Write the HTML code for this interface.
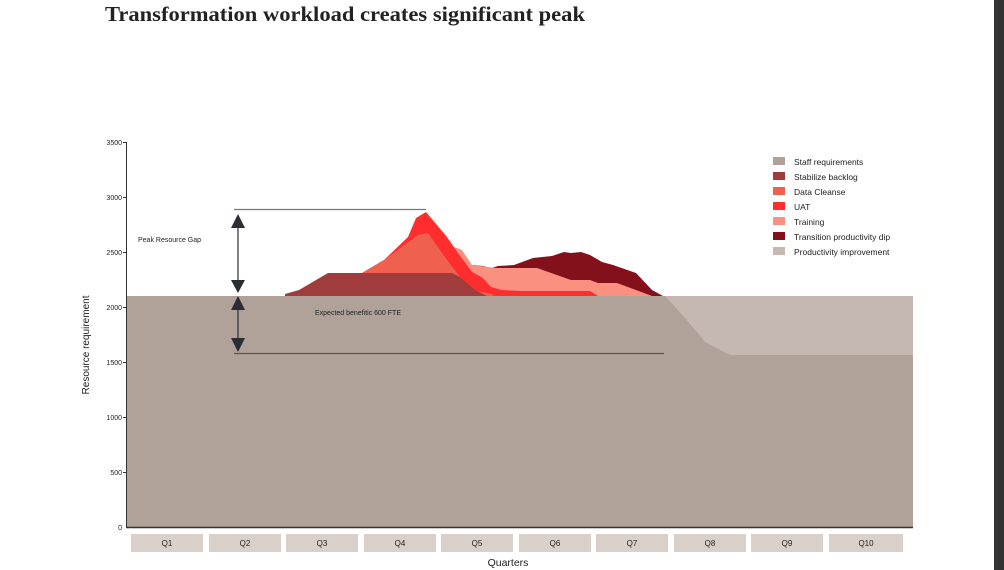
<!DOCTYPE html>
<html><head><meta charset="utf-8"><style>
html,body{margin:0;padding:0;background:#fff;}
body{width:1004px;height:570px;overflow:hidden;position:relative;}
</style></head><body>
<svg width="1004" height="570" xmlns="http://www.w3.org/2000/svg" style="position:absolute;left:0;top:0">
<rect x="994" y="0" width="10" height="570" fill="#333"/>
<text x="105" y="21" font-family="Liberation Serif, serif" font-weight="bold" font-size="21" fill="#222" textLength="480" lengthAdjust="spacingAndGlyphs">Transformation workload creates significant peak</text>
<polygon points="126,296 913,296 913,527 126,527" fill="#c4b8b0"/>
<polygon fill="#84101c" points="474,296 474,265 483,266 491,268 498,266 514,265 533,258 552,256 564,252 571,253 581,252 590,255 602,262 613,265 636,273 652,290 663,296"/>
<polygon fill="#f99080" points="454,296 454,247 462,250 472,265 474,265 487,267 498,268 537,268 571,280 590,280 598,283 617,283 644,293 652,296"/>
<polygon fill="#ff2e2e" points="362,296 362,273 384,260 408,237 416,218 426,212 447,237 458,253 472,272 483,278 491,287 502,290 521,291 590,291 598,296"/>
<polygon fill="#f0604f" points="362,296 362,273 384,260 418,235 428,233 447,260 460,277 472,290 491,294 494,296"/>
<polygon fill="#a03c3c" points="285,296 285,294 299,290 328,273 452,273 460,277 475,290 487,296"/>
<polygon fill="#b0a299" points="126,296 665,296 685,318 705,342 730,355 913,355 913,527 126,527"/>
<line x1="126.5" y1="142" x2="126.5" y2="528" stroke="#333" stroke-width="1"/>
<line x1="126" y1="527.5" x2="913" y2="527.5" stroke="#333" stroke-width="1.5"/>
<g font-family="Liberation Sans, sans-serif" font-size="7" fill="#222" text-anchor="end">
<text x="122" y="145">3500</text><text x="122" y="200">3000</text><text x="122" y="255">2500</text>
<text x="122" y="310">2000</text><text x="122" y="365">1500</text><text x="122" y="420">1000</text>
<text x="122" y="475">500</text><text x="122" y="530">0</text>
</g>
<g stroke="#333"><line x1="123" y1="142.5" x2="127" y2="142.5"/><line x1="123" y1="197.5" x2="127" y2="197.5"/><line x1="123" y1="252.5" x2="127" y2="252.5"/><line x1="123" y1="307.5" x2="127" y2="307.5"/><line x1="123" y1="362.5" x2="127" y2="362.5"/><line x1="123" y1="417.5" x2="127" y2="417.5"/><line x1="123" y1="472.5" x2="127" y2="472.5"/></g>
<text transform="translate(89,345) rotate(-90)" font-family="Liberation Sans, sans-serif" font-size="10" fill="#222" text-anchor="middle">Resource requirement</text>
<line x1="234" y1="209.5" x2="426" y2="209.5" stroke="#777" stroke-width="1.2"/>
<line x1="234" y1="353.5" x2="664" y2="353.5" stroke="#555" stroke-width="1.2"/>
<g fill="#2a2d33" stroke="#2a2d33">
<line x1="238" y1="220" x2="238" y2="286" stroke-width="1.2"/>
<line x1="238" y1="302" x2="238" y2="346" stroke-width="1.2"/>
<polygon points="238,214 245,228 231,228" stroke="none"/>
<polygon points="238,293 245,280 231,280" stroke="none"/>
<polygon points="238,296 245,310 231,310" stroke="none"/>
<polygon points="238,352 245,338 231,338" stroke="none"/>
</g>
<text x="138" y="242" font-family="Liberation Sans, sans-serif" font-size="7" fill="#222">Peak Resource Gap</text>
<text x="315" y="315" font-family="Liberation Sans, sans-serif" font-size="7" fill="#222">Expected benefitic 600 FTE</text>
<g font-family="Liberation Sans, sans-serif" font-size="8.5" fill="#222">
<rect x="773" y="157" width="12" height="8" fill="#b0a299"/><text x="794" y="165">Staff requirements</text>
<rect x="773" y="172" width="12" height="8" fill="#a03c3c"/><text x="794" y="180">Stabilize backlog</text>
<rect x="773" y="187" width="12" height="8" fill="#f0604f"/><text x="794" y="195">Data Cleanse</text>
<rect x="773" y="202" width="12" height="8" fill="#ff2e2e"/><text x="794" y="210">UAT</text>
<rect x="773" y="217" width="12" height="8" fill="#f99080"/><text x="794" y="225">Training</text>
<rect x="773" y="232" width="12" height="8" fill="#84101c"/><text x="794" y="240">Transition productivity dip</text>
<rect x="773" y="247" width="12" height="8" fill="#c4b8b0"/><text x="794" y="255">Productivity improvement</text>
</g>
<g font-family="Liberation Sans, sans-serif" font-size="8" fill="#222" text-anchor="middle">
<rect x="131" y="534" width="72" height="18" fill="#d9d0ca"/><text x="167" y="546">Q1</text>
<rect x="209" y="534" width="72" height="18" fill="#d9d0ca"/><text x="245" y="546">Q2</text>
<rect x="286" y="534" width="72" height="18" fill="#d9d0ca"/><text x="322" y="546">Q3</text>
<rect x="364" y="534" width="72" height="18" fill="#d9d0ca"/><text x="400" y="546">Q4</text>
<rect x="441" y="534" width="72" height="18" fill="#d9d0ca"/><text x="477" y="546">Q5</text>
<rect x="519" y="534" width="72" height="18" fill="#d9d0ca"/><text x="555" y="546">Q6</text>
<rect x="596" y="534" width="72" height="18" fill="#d9d0ca"/><text x="632" y="546">Q7</text>
<rect x="674" y="534" width="72" height="18" fill="#d9d0ca"/><text x="710" y="546">Q8</text>
<rect x="751" y="534" width="72" height="18" fill="#d9d0ca"/><text x="787" y="546">Q9</text>
<rect x="829" y="534" width="74" height="18" fill="#d9d0ca"/><text x="866" y="546">Q10</text>
</g>
<text x="508" y="566" font-family="Liberation Sans, sans-serif" font-size="10.5" fill="#222" text-anchor="middle">Quarters</text>
</svg>
</body></html>
